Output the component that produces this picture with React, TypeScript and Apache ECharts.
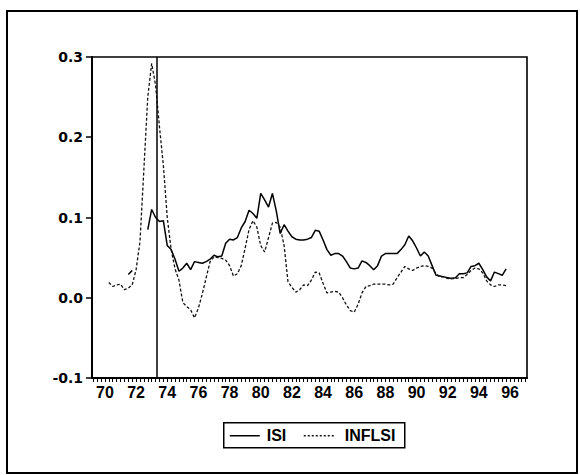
import React, { useEffect, useRef } from "react";
import * as echarts from "echarts";

// Quarterly observations, first one is 1970Q2 (x in years, 70 = 1970)
const FIRST_PERIOD = 70.25;
const PERIOD_STEP = 0.25;

const yearLabels = [70, 72, 74, 76, 78, 80, 82, 84, 86, 88, 90, 92, 94, 96];
const seriesNames = ["ISI", "INFLSI"];
const shockPeriod = 73.3;

// ISI (solid line); null = missing
const isi: (number | null)[] = [
  null, null, null, // 1970 Q2-Q4
  null, null, 0.029, 0.034, // 71
  null, null, null, 0.085, // 72
  0.11, 0.1, 0.095, 0.096, // 73
  0.065, 0.06, 0.048, 0.033, // 74
  0.037, 0.043, 0.035, 0.045, // 75
  0.044, 0.043, 0.045, 0.048, // 76
  0.053, 0.051, 0.052, 0.068, // 77
  0.073, 0.072, 0.075, 0.087, // 78
  0.095, 0.109, 0.105, 0.099, // 79
  0.13, 0.122, 0.113, 0.13, // 80
  0.108, 0.08, 0.091, 0.083, // 81
  0.076, 0.073, 0.072, 0.072, // 82
  0.073, 0.075, 0.084, 0.083, // 83
  0.072, 0.06, 0.053, 0.055, // 84
  0.055, 0.052, 0.045, 0.037, // 85
  0.036, 0.037, 0.046, 0.044, // 86
  0.04, 0.035, 0.04, 0.052, // 87
  0.055, 0.055, 0.055, 0.055, // 88
  0.06, 0.066, 0.077, 0.071, // 89
  0.062, 0.052, 0.057, 0.052, // 90
  0.04, 0.028, 0.027, 0.026, // 91
  0.025, 0.024, 0.025, 0.03, // 92
  0.03, 0.031, 0.039, 0.04, // 93
  0.043, 0.035, 0.026, 0.021, // 94
  0.032, 0.03, 0.028, 0.036, // 95
];

// INFLSI (dotted line)
const inflsi: (number | null)[] = [
  0.019, 0.014, 0.016, // 1970 Q2-Q4
  0.017, 0.01, 0.012, 0.016, // 71
  0.035, 0.07, 0.16, 0.25, // 72
  0.292, 0.265, 0.213, 0.165, // 73
  0.1, 0.06, 0.036, 0.022, // 74
  -0.006, -0.011, -0.015, -0.025, // 75
  -0.013, 0.005, 0.025, 0.045, // 76
  0.051, 0.05, 0.049, 0.047, // 77
  0.04, 0.027, 0.03, 0.04, // 78
  0.062, 0.085, 0.096, 0.088, // 79
  0.065, 0.057, 0.075, 0.093, // 80
  0.094, 0.088, 0.065, 0.02, // 81
  0.013, 0.007, 0.01, 0.016, // 82
  0.015, 0.022, 0.032, 0.031, // 83
  0.018, 0.006, 0.007, 0.008, // 84
  0.007, 0.0, -0.009, -0.016, // 85
  -0.018, -0.008, 0.006, 0.014, // 86
  0.015, 0.017, 0.017, 0.017, // 87
  0.017, 0.016, 0.017, 0.025, // 88
  0.032, 0.039, 0.036, 0.034, // 89
  0.037, 0.039, 0.04, 0.039, // 90
  0.037, 0.03, 0.026, 0.026, // 91
  0.024, 0.024, 0.024, 0.025, // 92
  0.025, 0.029, 0.034, 0.037, // 93
  0.036, 0.031, 0.021, 0.016, // 94
  0.014, 0.016, 0.016, 0.015, // 95
];

const X_MIN = 69.17;
const X_MAX = 97.09;

const SOLID = { color: "#000", width: 1.5 };
const DOTTED = { color: "#111", width: 1.3, dash: [3, 2] as number[] };

function toPairs(vals: (number | null)[]) {
  return vals.map((v, i) => [FIRST_PERIOD + i * PERIOD_STEP, v === null ? "-" : v]);
}

function quarterTicks() {
  const out: number[] = [];
  for (let t = 69.25; t <= X_MAX; t += 0.25) out.push(Math.round(t * 100) / 100);
  return out;
}

const legendFont = "bold 16px 'Liberation Sans', Arial, sans-serif";

export default function App() {
  const ref = useRef<HTMLDivElement>(null);

  useEffect(() => {
    if (!ref.current) return;
    const chart = echarts.init(ref.current, undefined, { renderer: "svg" });
    chart.setOption({
      animation: false,
      backgroundColor: "#fff",
      grid: {
        left: 92,
        right: 53,
        top: 57,
        bottom: 97,
        show: true,
        borderColor: "#000",
        borderWidth: 1.6,
        backgroundColor: "transparent",
      },
      graphic: [
        {
          type: "rect",
          shape: { x: 7, y: 11, width: 570, height: 462 },
          style: { fill: "none", stroke: "#000", lineWidth: 2 },
          silent: true,
        },
        {
          type: "group",
          left: 223,
          top: 422,
          silent: true,
          children: [
            {
              type: "rect",
              shape: { x: 0, y: 0, width: 181, height: 25 },
              style: { fill: "#fff", stroke: "#000", lineWidth: 1.5 },
            },
            {
              type: "line",
              shape: { x1: 6, y1: 13, x2: 36, y2: 13 },
              style: { stroke: SOLID.color, lineWidth: SOLID.width },
            },
            {
              type: "text",
              x: 43,
              y: 13,
              style: {
                text: seriesNames[0],
                font: legendFont,
                fill: "#000",
                verticalAlign: "middle",
                align: "left",
              },
            },
            {
              type: "line",
              shape: { x1: 80, y1: 13, x2: 112, y2: 13 },
              style: { stroke: DOTTED.color, lineWidth: DOTTED.width, lineDash: [2, 2] },
            },
            {
              type: "text",
              x: 121,
              y: 13,
              style: {
                text: seriesNames[1],
                font: legendFont,
                fill: "#000",
                verticalAlign: "middle",
                align: "left",
              },
            },
          ],
        },
      ],
      xAxis: {
        type: "value",
        min: X_MIN,
        max: X_MAX,
        axisLine: { onZero: false, lineStyle: { color: "#000", width: 2 } },
        axisTick: {
          show: true,
          customValues: quarterTicks(),
          length: 4,
          lineStyle: { color: "#000", width: 1 },
        },
        axisLabel: {
          customValues: yearLabels,
          formatter: (v: number) => String(Math.round(v)),
          color: "#000",
          fontFamily: "'Liberation Sans Narrow', 'Liberation Sans', Arial, sans-serif",
          fontWeight: "bold",
          fontSize: 16,
          margin: 6,
        },
        splitLine: { show: false },
      },
      yAxis: {
        type: "value",
        min: -0.1,
        max: 0.3,
        interval: 0.1,
        axisLine: { show: true, onZero: false, lineStyle: { color: "#000", width: 2 } },
        axisTick: { show: true, length: 6, lineStyle: { color: "#000", width: 1.5 } },
        axisLabel: {
          formatter: (v: number) => v.toFixed(1),
          color: "#000",
          fontFamily: "'DejaVu Sans', sans-serif",
          fontWeight: "bold",
          fontSize: 14,
          margin: 9,
        },
        splitLine: { show: false },
      },
      series: [
        {
          name: seriesNames[0],
          type: "line",
          data: toPairs(isi),
          symbol: "none",
          connectNulls: false,
          lineStyle: { color: SOLID.color, width: SOLID.width, type: "solid" },
          itemStyle: { color: SOLID.color },
          markLine: {
            silent: true,
            symbol: "none",
            label: { show: false },
            lineStyle: { color: "#000", width: 1.5, type: "solid" },
            data: [{ xAxis: shockPeriod }],
          },
        },
        {
          name: seriesNames[1],
          type: "line",
          data: toPairs(inflsi),
          symbol: "none",
          connectNulls: false,
          lineStyle: { color: DOTTED.color, width: DOTTED.width, type: DOTTED.dash },
          itemStyle: { color: DOTTED.color },
        },
      ],
    });
    return () => chart.dispose();
  }, []);

  return (
    <div
      ref={ref}
      style={{ position: "fixed", left: 0, top: 0, width: 580, height: 475, background: "#fff" }}
    />
  );
}
